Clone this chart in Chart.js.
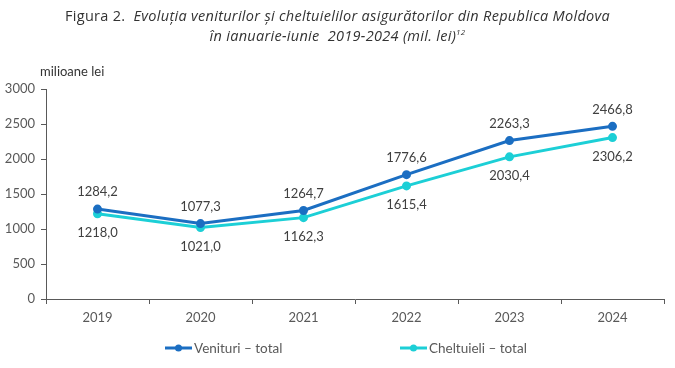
<!DOCTYPE html>
<html>
<head>
<meta charset="utf-8">
<script src="https://cdn.jsdelivr.net/npm/chart.js@4"></script>
<style>
    body { margin: 0; background: #fff; }
    #wrap { position: relative; width: 675px; height: 368px; }
    #title {
        position: absolute; left: 0; top: 6px; width: 675px; text-align: center;
        font-family: "Open Sans", sans-serif; font-size: 14.5px; color: #333; line-height: 20px;
        letter-spacing: 0.3px;
    }
    #title i { font-style: italic; }
    #title sup { font-size: 8px; vertical-align: 6px; line-height: 0; }
    canvas { position: absolute; left: 0; top: 0; }
</style>
</head>
<body>
<div id="wrap">
    <canvas id="chart" width="675" height="368"></canvas>
    <div id="title">Figura 2.&nbsp; <i>Evoluția veniturilor și cheltuielilor asigurătorilor din Republica Moldova</i><br><i>în ianuarie-iunie&nbsp; 2019-2024 (mil. lei)<sup>12</sup></i></div>
</div>
<script>
const years = ['2019', '2020', '2021', '2022', '2023', '2024'];
const venituri = [1284.2, 1077.3, 1264.7, 1776.6, 2263.3, 2466.8];
const cheltuieli = [1218.0, 1021.0, 1162.3, 1615.4, 2030.4, 2306.2];
const seriesNames = ['Venituri – total', 'Cheltuieli – total'];

const blue = '#1b6ec2';
const cyan = '#1ccfd6';
const textColor = '#595959';
const fontFamily = 'Lato, sans-serif';

const fmt = (v) => v.toFixed(1).replace('.', ',');

const extras = {
    id: 'extras',
    afterDatasetsDraw(chart) {
        const ctx = chart.ctx;
        ctx.save();
        ctx.font = '13px ' + fontFamily;
        ctx.fillStyle = '#404040';
        ctx.textAlign = 'center';
        ctx.textBaseline = 'middle';
        chart.data.datasets.forEach((ds, i) => {
            const meta = chart.getDatasetMeta(i);
            meta.data.forEach((pt, j) => {
                const dy = i === 0 ? -17 : 19;
                ctx.fillText(fmt(ds.data[j]), pt.x, pt.y + dy);
            });
        });

        // axis unit
        ctx.fillStyle = '#333';
        ctx.textAlign = 'left';
        ctx.fillText('milioane lei', 40, 72);

        // legend
        const items = [
            { x: 165, color: blue, label: seriesNames[0] },
            { x: 400, color: cyan, label: seriesNames[1] }
        ];
        items.forEach((it) => {
            const y = 348;
            ctx.strokeStyle = it.color;
            ctx.lineWidth = 3;
            ctx.beginPath();
            ctx.moveTo(it.x, y);
            ctx.lineTo(it.x + 27, y);
            ctx.stroke();
            ctx.fillStyle = it.color;
            ctx.beginPath();
            ctx.arc(it.x + 13.5, y, 3.5, 0, Math.PI * 2);
            ctx.fill();
            ctx.fillStyle = textColor;
            ctx.font = '13.5px ' + fontFamily;
            ctx.fillText(it.label, it.x + 29, y + 1);
        });
        ctx.restore();
    }
};

new Chart(document.getElementById('chart'), {
    type: 'line',
    data: {
        labels: years,
        datasets: [{
            label: seriesNames[0],
            data: venituri,
            borderColor: blue,
            backgroundColor: blue,
            borderWidth: 3,
            pointRadius: 3,
            tension: 0
        }, {
            label: seriesNames[1],
            data: cheltuieli,
            borderColor: cyan,
            backgroundColor: cyan,
            borderWidth: 3,
            pointRadius: 3,
            tension: 0
        }]
    },
    options: {
        responsive: false,
        animation: false,
        layout: { padding: { left: 0, top: 89, right: 11, bottom: 0 } },
        plugins: {
            legend: { display: false },
            title: { display: false },
            tooltip: { enabled: false }
        },
        scales: {
            x: {
                offset: true,
                afterFit: (axis) => { axis.height = 69; },
                grid: {
                    offset: true,
                    drawOnChartArea: false,
                    tickLength: 5,
                    color: '#595959'
                },
                border: { color: '#595959', width: 1 },
                ticks: {
                    color: textColor,
                    font: { family: fontFamily, size: 13 },
                    padding: 6
                }
            },
            y: {
                min: 0,
                max: 3000,
                afterFit: (axis) => { axis.width = 46; },
                grid: {
                    drawOnChartArea: false,
                    tickLength: 5,
                    color: '#595959'
                },
                border: { color: '#595959', width: 1 },
                ticks: {
                    stepSize: 500,
                    color: textColor,
                    font: { family: fontFamily, size: 13 },
                    padding: 6,
                    callback: (v) => String(v)
                }
            }
        }
    },
    plugins: [extras]
});
</script>
</body>
</html>
